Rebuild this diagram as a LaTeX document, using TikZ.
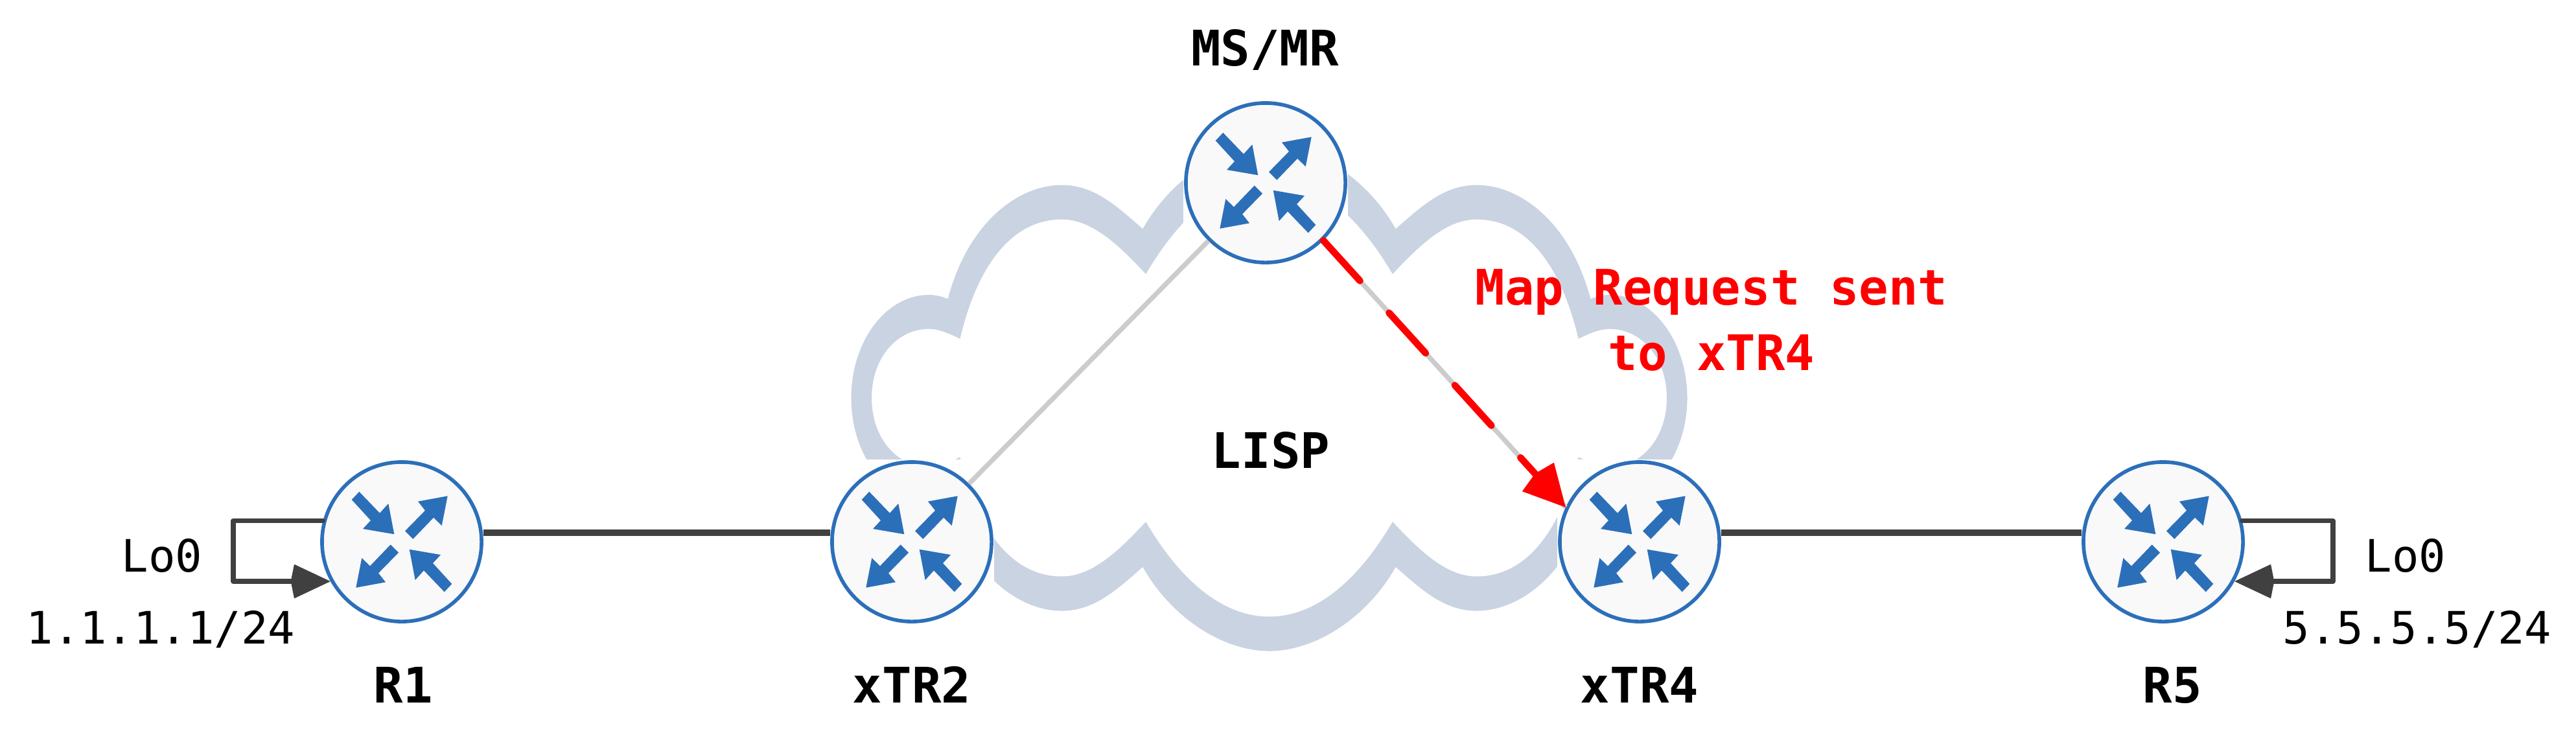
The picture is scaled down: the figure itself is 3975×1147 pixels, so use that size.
\documentclass[tikz,border=0pt]{standalone}
\usepackage{fontspec}
\setmonofont{DejaVu Sans Mono}
\usepackage{xcolor}
\usepackage{tikz}
\usetikzlibrary{arrows.meta,calc}
\definecolor{routerblue}{HTML}{2C6FB9}
\definecolor{routerfill}{HTML}{F9F9FA}
\definecolor{cloudblue}{HTML}{CAD3E2}
\definecolor{linkdark}{HTML}{404040}
\definecolor{linkgray}{HTML}{CCCCCC}
\definecolor{requestred}{HTML}{FF0000}

\tikzset{
  router/.style={circle, draw=routerblue, fill=routerfill, line width=1.6pt, minimum size=2.46cm, inner sep=0pt},
  routerarrows/.pic={
    \foreach \rot in {0,180} {
      \fill[routerblue, rotate=\rot] (-65.7,-77.3) -- (-77.3,-65) -- (-48,-33) -- (-60,-20) -- (-11.7,-11.7) -- (-20.7,-59) -- (-34,-44.3) -- cycle;
      \fill[routerblue, rotate=\rot] (5,-16.7) -- (17.3,-4.3) -- (49,-37.3) -- (61.7,-25) -- (70.7,-70.7) -- (25,-62.3) -- (36,-48.3) -- cycle;
    }
  },
  link/.style={linkdark, line width=3.1pt},
  tunnel/.style={linkgray, line width=2.1pt},
  loopback/.style={linkdark, line width=2.1pt, line join=round, line cap=round, -{Kite[length=17.4pt,width=15pt,inset=1.5pt]}},
  request/.style={requestred, line width=3pt, line cap=round, dash pattern=on 23.9pt off 19pt, -{Kite[length=20pt,width=18.8pt,inset=2pt]}},
  plainlabel/.style={anchor=base, font=\ttfamily\fontsize{19.6}{24}\selectfont},
  namelabel/.style={anchor=base, font=\ttfamily\bfseries\fontsize{21.5}{24}\selectfont},
  redlabel/.style={anchor=base, text=requestred, align=center, font=\ttfamily\bfseries\fontsize{21.5}{28.5}\selectfont}
}

\begin{document}
\begin{tikzpicture}[x=0.01cm, y=-0.01cm]
\useasboundingbox (0,0) rectangle (3975,1147);
\fill[white] (0,0) rectangle (3975,1147);

\foreach \sx/\sy in {1/1, -1/1, 1/-1, -1/-1} {
  \begin{scope}[shift={(1958.5,614)}, xscale=\sx, yscale=\sy]
    \filldraw[cloudblue, line width=0.3pt] (-644.5,0)
      .. controls (-644.5,-87) and (-591,-158.5) .. (-525,-158.5)
      .. controls (-515,-158.5) and (-505,-156) .. (-495.5,-152)
      .. controls (-465,-269) and (-388,-328) .. (-320,-328)
      .. controls (-270,-328) and (-235,-295) .. (-195,-260)
      .. controls (-150,-340) and (-70,-390) .. (0,-390)
      -- (0,-338)
      .. controls (-75,-338) and (-140,-278) .. (-190.5,-192)
      .. controls (-235,-240) and (-275,-276) .. (-320,-276)
      .. controls (-400,-276) and (-452,-200) .. (-477.5,-92)
      .. controls (-490,-98) and (-508,-107) .. (-525,-107)
      .. controls (-575,-107) and (-614,-62) .. (-614,0)
      -- cycle;
  \end{scope}
}

\foreach \name/\x/\y in {R1/620/836, xTR2/1407/836, MSMR/1953/282, xTR4/2530/836, R5/3338/836} {
  \fill[white] (\x-127,\y-127) rectangle (\x+127,\y+127);
  \node[router] (\name) at (\x,\y) {};
  \pic at (\x,\y) {routerarrows};
}

\draw[link] ([yshift=0.14cm]R1.east) -- ([yshift=0.14cm]xTR2.west);
\draw[link] ([yshift=0.14cm]xTR4.east) -- ([yshift=0.14cm]R5.west);
\draw[tunnel] (xTR2) -- (MSMR);
\draw[tunnel] (MSMR.-45) -- (xTR4.155);
\draw[request] (MSMR.-45) -- (xTR4.155);

\coordinate (R1loop) at (360,850);
\coordinate (R5loop) at (3600,850);
\draw[loopback] (R1.165) -| (R1loop) |- (R1.209);
\draw[loopback] (R5.15) -| (R5loop) |- (R5.-29);

\node[namelabel] (R1name) at (622,1084) {R1};
\node[namelabel] (xTR2name) at (1407,1084) {xTR2};
\node[namelabel] (MSMRname) at (1952,101) {MS/MR};
\node[namelabel] (xTR4name) at (2530,1084) {xTR4};
\node[namelabel] (R5name) at (3352,1084) {R5};
\node[namelabel] (LISPname) at (1961,722) {LISP};
\node[plainlabel] (R1lo) at (250,882) {Lo0};
\node[plainlabel] (R1addr) at (248,993) {1.1.1.1/24};
\node[plainlabel] (R5lo) at (3712,882) {Lo0};
\node[plainlabel] (R5addr) at (3730,993) {5.5.5.5/24};
\node[redlabel] (maprequest) at (2641,571) {Map Request sent\\to xTR4};
\end{tikzpicture}
\end{document}
